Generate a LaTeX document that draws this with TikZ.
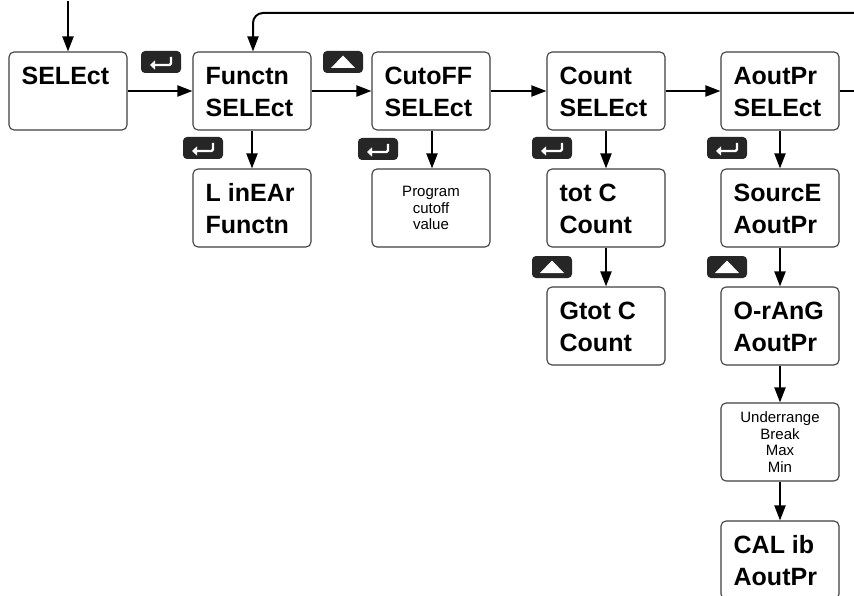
\documentclass[tikz,border=0pt]{standalone}
\usepackage{fontspec}
\setmainfont{Liberation Sans}
\usetikzlibrary{arrows.meta}
\tikzset{
  dispbox/.style={draw=black!75, line width=1.1pt, rounded corners=5pt,
    minimum width=118pt, minimum height=78pt, inner sep=0pt, fill=white},
  desc/.style={dispbox, align=center, font=\fontsize{15}{16.8}\selectfont},
  seg/.style={anchor=base west, inner sep=0pt,
    font=\bfseries\fontsize{25}{30}\selectfont},
  arr/.style={line width=2pt, -{Triangle[length=15pt,width=11pt]}},
  plainline/.style={line width=2pt},
  btn/.style={fill=black!85, rounded corners=4pt, minimum width=40pt,
    minimum height=22pt, inner sep=0pt},
  btnsym/.style={white, line width=2.2pt, rounded corners=1.5pt,
    -{Triangle[length=5pt,width=9pt]}}
}
\newcommand\twoline[5]{% name, x, y, line1, line2
  \node[dispbox] (#1) at (#2,#3) {};
  \node[seg] (#1-a) at ([xshift=13pt,yshift=-33pt]#1.north west) {#4};
  \node[seg] (#1-b) at ([xshift=13pt,yshift=-65pt]#1.north west) {#5};
}
\newcommand\enterbtn[3]{% name, x, y
  \node[btn] (#1) at (#2,#3) {};
  \draw[btnsym] ([shift={(10,-5)}]#1.center) -- ([shift={(10,3)}]#1.center)
     -- ([shift={(-11,3)}]#1.center);
}
\newcommand\upbtn[3]{% name, x, y
  \node[btn] (#1) at (#2,#3) {};
  \fill[white] ([shift={(0,-6.5)}]#1.center) -- ([shift={(12,6)}]#1.center)
     -- ([shift={(-12,6)}]#1.center) -- cycle;
}
\begin{document}
\begin{tikzpicture}[x=1pt,y=-1pt]
\useasboundingbox (0,0) rectangle (854,596);
\fill[white] (0,0) rectangle (854,596);

% top row
\node[dispbox] (sel) at (68,91) {};
\node[seg] (sel-a) at ([xshift=13pt,yshift=-33pt]sel.north west) {SELEct};
\twoline{fun}{252}{91}{Functn}{SELEct}
\twoline{cut}{431}{91}{CutoFF}{SELEct}
\twoline{cnt}{606}{91}{Count}{SELEct}
\twoline{aout}{780}{91}{AoutPr}{SELEct}

% second row
\twoline{lin}{252}{208}{L inEAr}{Functn}
\node[desc] (prog) at (431,208) {Program\\cutoff\\value};
\twoline{tot}{606}{208}{tot C}{Count}
\twoline{src}{780}{208}{SourcE}{AoutPr}

% third row
\twoline{gtot}{606}{326}{Gtot C}{Count}
\twoline{orng}{780}{326}{O-rAnG}{AoutPr}

% fourth / fifth rows
\node[desc] (under) at (780,442) {Underrange\\Break\\Max\\Min};
\twoline{cal}{780}{560}{CAL ib}{AoutPr}

% buttons
\enterbtn{e1}{161}{62}
\upbtn{u1}{343}{62}
\enterbtn{e2}{203}{148}
\enterbtn{e3}{378}{149}
\enterbtn{e4}{552}{148}
\upbtn{u2}{552}{267}
\enterbtn{e5}{727}{148}
\upbtn{u3}{727}{267}

% connectors
\coordinate (entry) at (68,1);
\coordinate (loopin) at (854,13);
\coordinate (outr) at (854,91);
\draw[arr] (entry) -- (sel.north);
\draw[arr] (sel.east) -- (fun.west);
\draw[arr] (fun.east) -- (cut.west);
\draw[arr] (cut.east) -- (cnt.west);
\draw[arr] (cnt.east) -- (aout.west);
\draw[plainline] (aout.east) -- (outr);
\draw[arr, rounded corners=10pt] (loopin) -| ([xshift=1pt]fun.north);

\draw[arr] (fun.south) -- (lin.north);
\draw[arr] ([xshift=1pt]cut.south) -- ([xshift=1pt]prog.north);
\draw[arr] (cnt.south) -- (tot.north);
\draw[arr] (tot.south) -- (gtot.north);
\draw[arr] (aout.south) -- (src.north);
\draw[arr] (src.south) -- (orng.north);
\draw[arr] (orng.south) -- (under.north);
\draw[arr] (under.south) -- (cal.north);
\end{tikzpicture}
\end{document}
